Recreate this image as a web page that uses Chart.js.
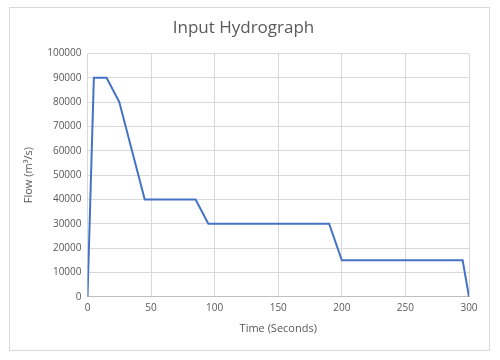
<!DOCTYPE html>
<html>
<head>
<meta charset="utf-8">
<script src="https://cdn.jsdelivr.net/npm/chart.js@4"></script>
<style>
  html, body { margin: 0; padding: 0; background: #fff; }
  #wrap { width: 500px; height: 360px; }
</style>
</head>
<body>
<div id="wrap"><canvas id="chart-hydro"></canvas></div>
<script>
const timeSec = [0, 5, 15, 25, 45, 85, 95, 190, 200, 295, 300];
const flowM3s = [0, 90000, 90000, 80000, 40000, 40000, 30000, 30000, 15000, 15000, 0];

const points = timeSec.map((t, i) => ({ x: t, y: flowM3s[i] }));

// light frame around the whole chart, like the Excel chart area
const frame = {
  id: 'frame',
  beforeDraw(chart) {
    const ctx = chart.ctx;
    ctx.save();
    ctx.fillStyle = '#fff';
    ctx.fillRect(0, 0, chart.width, chart.height);
    ctx.strokeStyle = '#d9d9d9';
    ctx.lineWidth = 1;
    ctx.strokeRect(9.5, 7.5, 480, 343);
    ctx.restore();
  }
};

const font = "'Open Sans', 'Liberation Sans', sans-serif";

new Chart(document.getElementById('chart-hydro'), {
  type: 'line',
  data: {
    datasets: [{
      data: points,
      borderColor: '#4472c4',
      borderWidth: 2,
      pointRadius: 0,
      tension: 0,
      fill: false
    }]
  },
  options: {
    responsive: true,
    maintainAspectRatio: false,
    animation: false,
    layout: { padding: { left: 18, right: 31, top: 8, bottom: 21 } },
    plugins: {
      legend: { display: false },
      tooltip: { enabled: false },
      title: {
        display: true,
        text: 'Input Hydrograph',
        color: '#595959',
        font: { family: font, size: 17, weight: 'normal' },
        padding: { top: 10, bottom: 15 }
      }
    },
    scales: {
      x: {
        type: 'linear',
        min: 0, max: 300,
        ticks: { stepSize: 50, color: '#595959', font: { family: font, size: 10 }, padding: 5 },
        grid: { color: '#d9d9d9', drawTicks: false },
        border: { color: '#bfbfbf' },
        title: { display: true, text: 'Time (Seconds)', color: '#595959', font: { family: font, size: 11 }, padding: { top: 3 } }
      },
      y: {
        min: 0, max: 100000,
        ticks: { stepSize: 10000, color: '#595959', font: { family: font, size: 10 }, padding: 6,
                 callback: v => String(v) },
        grid: { color: '#d9d9d9', drawTicks: false },
        border: { display: false },
        title: { display: true, text: 'Flow (m³/s)', color: '#595959', font: { family: font, size: 11 }, padding: { bottom: 6 } }
      }
    }
  },
  plugins: [frame]
});
</script>
</body>
</html>
